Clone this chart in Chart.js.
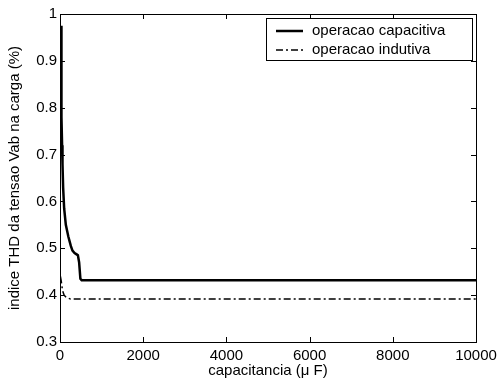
<!DOCTYPE html>
<html>
<head>
<meta charset="utf-8">
<script src="https://cdn.jsdelivr.net/npm/chart.js@4.4.1/dist/chart.umd.min.js"></script>
<style>
  html, body { margin: 0; padding: 0; background: #fff; }
  #wrap { width: 503px; height: 380px; }
</style>
</head>
<body>
<div id="wrap"><canvas id="thd"></canvas></div>
<script>
// capacitancia (uF) vs indice THD (%)
const capX = [25, 30, 40, 50, 60, 75, 100, 140, 200, 260, 300, 350, 400, 430, 460, 490, 520, 600, 1000, 2000, 3000, 4000, 5000, 6000, 7000, 8000, 9000, 10000];
const capY = [0.975, 0.88, 0.78, 0.72, 0.68, 0.63, 0.585, 0.55, 0.525, 0.505, 0.495, 0.49, 0.487, 0.485, 0.47, 0.435, 0.432, 0.432, 0.432, 0.432, 0.432, 0.432, 0.432, 0.432, 0.432, 0.432, 0.432, 0.432];
const indX = [10, 30, 60, 100, 150, 250, 400, 1000, 2000, 3000, 4000, 5000, 6000, 7000, 8000, 9000, 10000];
const indY = [0.44, 0.43, 0.41, 0.40, 0.395, 0.392, 0.392, 0.392, 0.392, 0.392, 0.392, 0.392, 0.392, 0.392, 0.392, 0.392, 0.392];
const xTicks = [0, 2000, 4000, 6000, 8000, 10000];
const yTicks = [0.3, 0.4, 0.5, 0.6, 0.7, 0.8, 0.9, 1];
const seriesNames = ["operacao capacitiva", "operacao indutiva"];

const FONT = "'Liberation Sans', Arial, sans-serif";

const toPoints = (xs, ys) => xs.map((x, i) => ({ x: x, y: ys[i] }));

// box around the axes + inward ticks on all four sides
const framePlugin = {
  id: "frame",
  afterDraw(chart) {
    const { ctx, chartArea: a, scales } = chart;
    ctx.save();
    ctx.strokeStyle = "#000";
    ctx.lineWidth = 1;
    ctx.strokeRect(a.left + 0.5, a.top + 0.5, a.right - a.left, a.bottom - a.top);
    ctx.beginPath();
    xTicks.forEach((v) => {
      const px = Math.round(scales.x.getPixelForValue(v)) + 0.5;
      ctx.moveTo(px, a.bottom); ctx.lineTo(px, a.bottom - 5);
      ctx.moveTo(px, a.top); ctx.lineTo(px, a.top + 5);
    });
    yTicks.forEach((v) => {
      const py = Math.round(scales.y.getPixelForValue(v)) + 0.5;
      ctx.moveTo(a.left, py); ctx.lineTo(a.left + 5, py);
      ctx.moveTo(a.right, py); ctx.lineTo(a.right - 5, py);
    });
    ctx.stroke();

    // legend box, top right
    const lx = 266, ly = 18, lw = 206, lh = 42;
    ctx.fillStyle = "#fff";
    ctx.fillRect(lx, ly, lw, lh);
    ctx.strokeRect(lx + 0.5, ly + 0.5, lw, lh);
    chart.data.datasets.forEach((ds, i) => {
      const y = ly + 13 + i * 19;
      ctx.beginPath();
      ctx.setLineDash(ds.borderDash || []);
      ctx.lineWidth = ds.borderWidth;
      ctx.moveTo(276, y);
      ctx.lineTo(303, y);
      ctx.stroke();
      ctx.setLineDash([]);
      ctx.fillStyle = "#000";
      ctx.font = "15px " + FONT;
      ctx.textBaseline = "middle";
      ctx.fillText(ds.label, 312, y);
    });
    ctx.restore();
  },
};

new Chart(document.getElementById("thd"), {
  type: "scatter",
  data: {
    datasets: [
      {
        label: seriesNames[0],
        data: toPoints(capX, capY),
        showLine: true,
        borderColor: "#000",
        borderWidth: 2.5,
        pointRadius: 0,
        tension: 0,
      },
      {
        label: seriesNames[1],
        data: toPoints(indX, indY),
        showLine: true,
        borderColor: "#000",
        borderWidth: 1.5,
        borderDash: [7, 3, 2, 3],
        pointRadius: 0,
        tension: 0,
      },
    ],
  },
  options: {
    responsive: true,
    maintainAspectRatio: false,
    animation: false,
    layout: { padding: { left: 0, top: 14, right: 27, bottom: 0 } },
    plugins: { legend: { display: false }, tooltip: { enabled: false } },
    scales: {
      x: {
        type: "linear",
        min: 0,
        max: 10000,
        afterBuildTicks: (s) => { s.ticks = xTicks.map((v) => ({ value: v })); },
        afterFit: (s) => { s.height = 38; },
        grid: { display: false, drawTicks: false, tickLength: 0 },
        border: { display: false },
        ticks: { color: "#000", font: { family: FONT, size: 15 }, padding: 5, maxRotation: 0, callback: (v) => String(v) },
        title: { display: true, text: "capacitancia (\u03bc F)", color: "#000", font: { family: FONT, size: 15 }, padding: { top: 0, bottom: 0 } },
      },
      y: {
        type: "linear",
        min: 0.3,
        max: 1,
        afterBuildTicks: (s) => { s.ticks = yTicks.map((v) => ({ value: v })); },
        afterFit: (s) => { s.width = 60; },
        grid: { display: false, drawTicks: false, tickLength: 0 },
        border: { display: false },
        ticks: { color: "#000", font: { family: FONT, size: 15 }, padding: 3, callback: (v) => String(v) },
        title: { display: true, text: "indice THD da tensao Vab na carga (%)", color: "#000", font: { family: FONT, size: 15 }, padding: { top: 6, bottom: 0 } },
      },
    },
  },
  plugins: [framePlugin],
});
</script>
</body>
</html>
